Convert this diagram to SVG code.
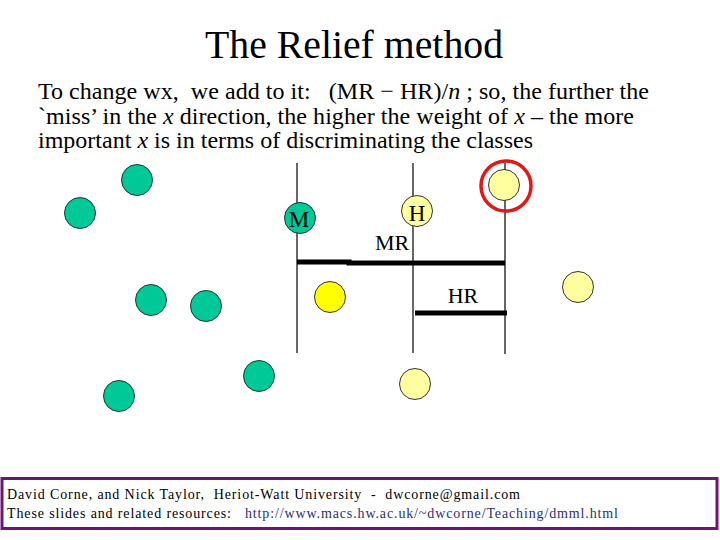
<svg xmlns="http://www.w3.org/2000/svg" width="720" height="540" viewBox="0 0 720 540">
<style>
.t{font-family:"Liberation Serif","Times New Roman",serif;fill:#000;white-space:pre}
.g{fill:#00C896;stroke:#1a3a2a;stroke-width:1}
.y{fill:#FFFF00;stroke:#333;stroke-width:1}
.p{fill:#FFFFA0;stroke:#333;stroke-width:1}
.v{stroke:#000;stroke-width:1.2}
.b{stroke:#000;stroke-width:5}
</style>
<rect width="720" height="540" fill="#fff"/>
<text class="t" x="205" y="58" font-size="39" textLength="298" lengthAdjust="spacingAndGlyphs">The Relief method</text>
<g class="t" font-size="24">
<text x="38" y="99" textLength="611" xml:space="preserve">To change wx,  we add to it:   (MR − HR)/<tspan font-style="italic">n</tspan> ; so, the further the</text>
<text x="38" y="124" textLength="596" xml:space="preserve">`miss’ in the <tspan font-style="italic">x</tspan> direction, the higher the weight of <tspan font-style="italic">x</tspan> – the more</text>
<text x="38" y="148" textLength="495" xml:space="preserve">important <tspan font-style="italic">x</tspan> is in terms of discriminating the classes</text>
</g>
<g id="connectors">
<line class="v" x1="297" y1="163" x2="297" y2="353"/>
<line class="v" x1="413" y1="163" x2="413" y2="353"/>
<line class="v" x1="505" y1="163" x2="505" y2="354"/>
<path d="M297 262H349V263H505" class="b" fill="none"/>
<line class="b" x1="415" y1="313" x2="507" y2="313"/>
</g>
<g id="n1"><circle class="g" cx="137" cy="180" r="15.5"/></g>
<g id="n2"><circle class="g" cx="80" cy="213" r="15.5"/></g>
<g id="n3"><circle class="g" cx="151" cy="300" r="15.5"/></g>
<g id="n4"><circle class="g" cx="206" cy="306" r="15.5"/></g>
<g id="n5"><circle class="g" cx="259" cy="376" r="15.5"/></g>
<g id="n6"><circle class="g" cx="119" cy="396" r="15.5"/></g>
<g id="M"><circle class="g" cx="300" cy="218" r="15.5"/><text class="t" x="299" y="227" font-size="23" text-anchor="middle">M</text></g>
<g id="n7"><circle class="y" cx="330" cy="297" r="15.5"/></g>
<g id="H"><circle class="p" cx="417" cy="211" r="15.5"/><text class="t" x="417" y="221" font-size="23" text-anchor="middle">H</text></g>
<g id="target"><circle class="p" cx="504" cy="185" r="15.5"/><circle cx="506" cy="186" r="25" fill="none" stroke="#E01818" stroke-width="3.5"/></g>
<g id="n8"><circle class="p" cx="578" cy="287" r="15.5"/></g>
<g id="n9"><circle class="p" cx="415" cy="384" r="15.5"/></g>
<text class="t" x="392" y="250" font-size="22" text-anchor="middle">MR</text>
<text class="t" x="463" y="303" font-size="22" text-anchor="middle">HR</text>
<g id="footer">
<rect x="2" y="478.5" width="715" height="50" fill="#fff" stroke="#6B1670" stroke-width="3"/>
<text class="t" x="7" y="499" font-size="14" textLength="513" xml:space="preserve">David Corne, and Nick Taylor,  Heriot-Watt University  -  dwcorne@gmail.com</text>
<text class="t" x="7" y="518" font-size="14" textLength="611" xml:space="preserve">These slides and related resources:   <tspan fill="#2E2E70">http://www.macs.hw.ac.uk/~dwcorne/Teaching/dmml.html</tspan></text>
</g>
</svg>
